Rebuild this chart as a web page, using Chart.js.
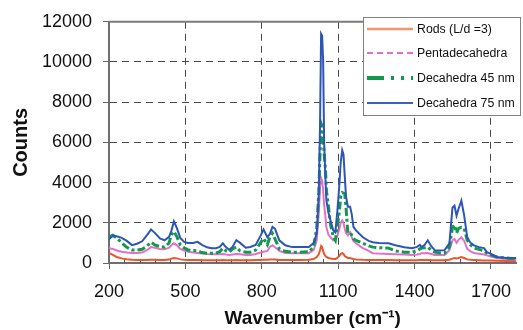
<!DOCTYPE html>
<html>
<head>
<meta charset="utf-8">
<script src="https://cdn.jsdelivr.net/npm/chart.js@4/dist/chart.umd.min.js"></script>
<style>
html,body{margin:0;padding:0;background:#fff;}
canvas{display:block;}
</style>
</head>
<body>
<canvas id="c" width="523" height="330"></canvas>
<script>
const wavenumbers = [200,215,230,250,270,290,310,330,350,365,380,400,418,436,445,455,467,480,495,510,530,548,565,585,602,620,635,647,660,672,685,700,715,737,755,776,795,807,822,832,842,852,869,892,920,950,985,1004,1016,1024,1029,1033,1037,1041,1045,1050,1054,1062,1070,1081,1089,1097,1105,1110,1116,1121,1126,1131,1138,1147,1153,1160,1170,1197,1220,1236,1260,1298,1325,1360,1390,1410,1421,1428,1440,1452,1465,1479,1500,1518,1537,1549,1557,1565,1573,1584,1595,1607,1620,1634,1653,1673,1684,1700,1723,1762,1800];

const deca75 = [1180,1350,1330,1250,1100,890,960,1080,1400,1670,1500,1220,1130,1300,1600,2070,1720,1250,1050,1000,1000,1050,900,780,740,740,800,980,780,660,800,1130,1000,760,800,900,1350,1670,1280,1450,1800,1700,1130,880,790,790,790,1000,1475,3500,7000,11400,11300,10100,6000,4200,3100,2500,2120,1620,1525,2600,3930,5000,5610,5400,4300,3300,2800,2800,2460,1800,1620,1280,1100,1030,1000,980,880,780,740,800,900,790,900,1130,850,640,620,640,980,2750,2850,2360,2700,3100,2360,1280,1000,880,790,740,540,450,300,250,250];

const deca45 = [1300,1380,1250,1000,780,650,640,680,850,1030,900,820,790,1000,1400,1570,1300,900,750,650,620,600,520,490,490,490,560,740,600,540,700,790,600,540,540,640,1000,1230,910,1300,1475,1200,700,580,540,540,560,800,1770,3500,5500,6940,6800,6300,5400,4720,3590,2800,1900,1300,1130,1800,2600,3300,3500,3480,3440,2750,1500,1500,1400,1200,1130,980,850,790,760,740,600,540,540,600,700,740,760,790,650,540,500,490,790,1770,1900,1500,1720,1770,1720,1130,900,740,680,600,490,400,300,250,200];

const penta = [740,700,620,560,520,500,500,520,650,790,760,700,680,760,880,980,880,700,620,560,520,500,470,450,440,430,430,450,420,400,420,450,430,400,400,450,520,560,600,800,880,780,600,500,490,490,490,650,1130,2500,3800,4230,4100,3600,2900,2300,1770,1400,1280,1130,1150,1350,1700,2000,2120,2000,1700,1500,1380,1525,1300,1100,980,740,600,490,470,450,440,420,400,420,450,490,490,500,450,400,400,400,640,1130,1200,1000,1150,1280,1100,700,580,500,460,420,380,320,250,200,180];

const rods = [500,400,300,230,190,160,150,150,150,160,160,150,150,170,220,250,230,180,160,150,150,150,140,140,140,140,140,150,140,140,140,150,140,140,140,150,150,160,160,170,180,170,150,150,150,150,160,200,300,450,650,850,800,600,450,350,300,250,220,200,200,250,350,450,500,450,350,300,250,250,220,200,180,160,150,150,150,150,140,140,140,140,150,150,150,150,140,140,140,140,160,220,250,220,250,300,250,180,160,150,140,130,130,120,110,100,100];

const seriesNames = ['Rods (L/d =3)', 'Pentadecahedra', 'Decahedra 45 nm', 'Decahedra 75 nm'];
const xTickValues = [200, 500, 800, 1100, 1400, 1700];
const yTickValues = [0, 2000, 4000, 6000, 8000, 10000, 12000];
const xTitle = 'Wavenumber (cm\u207B\u00B9)';
const yTitle = 'Counts';

const FONT = "'Liberation Sans', Arial, Helvetica, sans-serif";

function pts(vals) { return wavenumbers.map((w, i) => ({x: w, y: vals[i]})); }

const datasets = [
  {label: seriesNames[0], data: pts(rods), borderColor: '#F0542A', borderWidth: 2, order: 3,
   legendColor: '#F5956B', legendDash: [], legendWidth: 2.5},
  {label: seriesNames[1], data: pts(penta), borderColor: '#E070C8', borderWidth: 2, order: 2,
   legendColor: '#E070C8', legendDash: [6, 4], legendWidth: 2},
  {label: seriesNames[2], data: pts(deca45), borderColor: '#12994A', borderWidth: 3, borderDash: [8, 3, 3, 3], order: 1,
   legendColor: '#12994A', legendDash: [17, 7, 3, 7, 3, 7], legendWidth: 4},
  {label: seriesNames[3], data: pts(deca75), borderColor: '#2C55B8', borderWidth: 2, order: 0,
   legendColor: '#3A60C0', legendDash: [], legendWidth: 2}
];

const framePlugin = {
  id: 'frame',
  beforeDatasetsDraw(chart) {
    const {ctx, chartArea: a, scales: {x}} = chart;
    ctx.save();
    ctx.strokeStyle = '#7a7a7a';
    ctx.lineWidth = 2;
    ctx.beginPath();
    ctx.moveTo(a.left, a.top);
    ctx.lineTo(a.right, a.top);
    ctx.stroke();
    ctx.strokeStyle = '#555';
    ctx.lineWidth = 1;
    for (let v = 260; v < 1800; v += 60) {
      if (xTickValues.includes(v)) continue;
      const px = Math.round(x.getPixelForValue(v)) + 0.5;
      ctx.beginPath();
      ctx.moveTo(px, a.bottom);
      ctx.lineTo(px, a.bottom - 4);
      ctx.stroke();
    }
    ctx.restore();
  }
};

const legendPlugin = {
  id: 'boxLegend',
  afterDraw(chart) {
    const ctx = chart.ctx;
    const bx = 363.5, by = 17.5, bw = 157, bh = 98;
    ctx.save();
    ctx.fillStyle = '#ffffff';
    ctx.fillRect(bx, by, bw, bh);
    ctx.strokeStyle = '#808080';
    ctx.lineWidth = 1;
    ctx.strokeRect(bx, by, bw, bh);
    const rows = [29, 53, 78, 103];
    chart.data.datasets.forEach((ds, i) => {
      const y = rows[i];
      ctx.strokeStyle = ds.legendColor;
      ctx.lineWidth = ds.legendWidth;
      ctx.setLineDash(ds.legendDash);
      ctx.beginPath();
      ctx.moveTo(367, y);
      ctx.lineTo(413, y);
      ctx.stroke();
      ctx.setLineDash([]);
      ctx.fillStyle = '#111';
      ctx.font = '12.3px ' + FONT;
      ctx.textBaseline = 'middle';
      ctx.textAlign = 'left';
      ctx.fillText(ds.label, 417, y + 1);
    });
    ctx.restore();
  }
};

new Chart(document.getElementById('c'), {
  type: 'line',
  data: {datasets},
  options: {
    responsive: false,
    animation: false,
    devicePixelRatio: 1,
    parsing: true,
    elements: {point: {radius: 0}, line: {tension: 0, fill: false}},
    layout: {padding: {left: 0, right: 1, top: 19, bottom: 0}},
    plugins: {legend: {display: false}, tooltip: {enabled: false}},
    scales: {
      x: {
        type: 'linear', min: 200, max: 1800,
        afterBuildTicks(s) { s.ticks = xTickValues.map(v => ({value: v})); },
        afterFit(s) { s.height = 67; },
        ticks: {font: {family: FONT, size: 18}, color: '#111', padding: 12, maxRotation: 0,
                callback: (v) => String(v)},
        grid: {color: '#4a4a4a', lineWidth: 1, tickLength: 6, tickColor: '#666', drawTicks: true},
        border: {display: true, color: '#6e6e6e', width: 2, dash: [7, 5]},
        title: {display: true, text: xTitle, font: {family: FONT, size: 19, weight: 'bold'}, color: '#111',
                padding: {top: 0, bottom: 0}}
      },
      y: {
        type: 'linear', min: 0, max: 12000,
        afterBuildTicks(s) { s.ticks = yTickValues.map(v => ({value: v})); },
        afterFit(s) { s.width = 109; },
        ticks: {font: {family: FONT, size: 18}, color: '#111', padding: 11, callback: (v) => String(v)},
        grid: {color: '#4a4a4a', lineWidth: 1, tickLength: 6, tickColor: '#666', drawTicks: true},
        border: {display: true, color: '#6e6e6e', width: 2, dash: [7, 5]},
        title: {display: true, text: yTitle, font: {family: FONT, size: 20, weight: 'bold'}, color: '#111',
                padding: {top: 9, bottom: 0}}
      }
    }
  },
  plugins: [framePlugin, legendPlugin]
});
</script>
</body>
</html>
